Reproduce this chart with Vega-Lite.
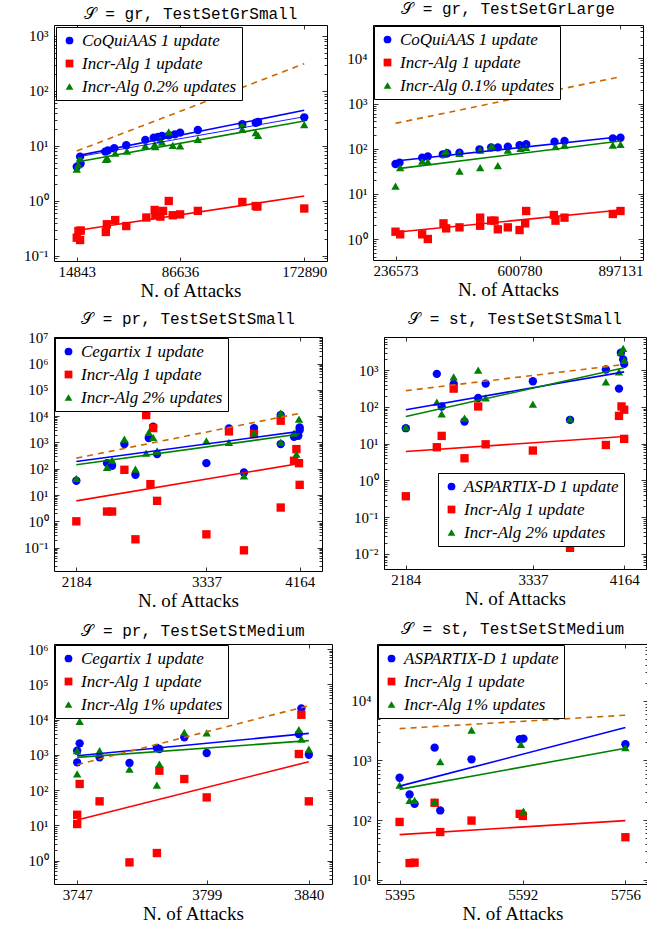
{
"$schema": "https://vega.github.io/schema/vega-lite/v6.json",
"padding": {"left": 5, "top": 0, "right": 0, "bottom": 0},
"spacing": 9,
"resolve": {"scale": {"x": "independent", "y": "independent", "fill": "independent", "shape": "independent"}},
"config": {
  "view": {"stroke": "black", "strokeWidth": 1},
  "axis": {"domain": false, "grid": false, "tickColor": "black", "tickWidth": 0.8, "labelColor": "black", "labelFont": "Liberation Serif, serif", "labelFontSize": 15, "titleFont": "Liberation Serif, serif", "titleFontSize": 19, "titleFontWeight": "normal", "titleColor": "black", "labelOverlap": false, "labelFlush": false},
  "legend": {"strokeColor": "black", "fillColor": "white", "padding": 5, "labelFont": "Liberation Serif, serif", "labelFontStyle": "italic", "labelFontSize": 17, "labelColor": "black", "symbolSize": 60, "rowPadding": 5, "labelOffset": 4, "labelLimit": 400, "symbolStrokeWidth": 0},
  "title": {"font": "Liberation Mono, monospace", "fontSize": 16, "fontWeight": "normal", "color": "black", "offset": 3}
},
"datasets": {
  "p1p": [
    {"x":14843,"y":4.2,"s":"b"},{"x":17167,"y":6.4,"s":"b"},{"x":17500,"y":4.8,"s":"b"},{"x":34597,"y":7.9,"s":"b"},{"x":36456,"y":8.3,"s":"b"},{"x":40872,"y":9.1,"s":"b"},{"x":49238,"y":10.3,"s":"b"},{"x":62485,"y":12.9,"s":"b"},{"x":68295,"y":14.2,"s":"b"},{"x":71316,"y":14.6,"s":"b"},{"x":74105,"y":15.2,"s":"b"},{"x":78758,"y":15.6,"s":"b"},{"x":82935,"y":16.3,"s":"b"},{"x":86636,"y":17.5,"s":"b"},{"x":98972,"y":19.5,"s":"b"},{"x":129881,"y":25,"s":"b"},{"x":139177,"y":26.5,"s":"b"},{"x":140804,"y":27.3,"s":"b"},{"x":172890,"y":33.2,"s":"b"},
    {"x":14843,"y":0.215,"s":"r"},{"x":16005,"y":0.285,"s":"r"},{"x":17167,"y":0.195,"s":"r"},{"x":17632,"y":0.29,"s":"r"},{"x":35062,"y":0.273,"s":"r"},{"x":35760,"y":0.377,"s":"r"},{"x":41568,"y":0.45,"s":"r"},{"x":49238,"y":0.35,"s":"r"},{"x":63187,"y":0.5,"s":"r"},{"x":68997,"y":0.686,"s":"r"},{"x":69462,"y":0.55,"s":"r"},{"x":72948,"y":0.52,"s":"r"},{"x":74808,"y":0.66,"s":"r"},{"x":78758,"y":1.0,"s":"r"},{"x":81547,"y":0.55,"s":"r"},{"x":86636,"y":0.57,"s":"r"},{"x":98972,"y":0.66,"s":"r"},{"x":129881,"y":0.96,"s":"r"},{"x":139177,"y":0.81,"s":"r"},{"x":140339,"y":0.79,"s":"r"},{"x":172890,"y":0.73,"s":"r"},
    {"x":14843,"y":3.8,"s":"g"},{"x":16005,"y":4.6,"s":"g"},{"x":17167,"y":6.1,"s":"g"},{"x":35062,"y":5.7,"s":"g"},{"x":36224,"y":5.9,"s":"g"},{"x":41568,"y":7.4,"s":"g"},{"x":49703,"y":8.1,"s":"g"},{"x":62485,"y":10,"s":"g"},{"x":68997,"y":10.7,"s":"g"},{"x":69462,"y":9.7,"s":"g"},{"x":72948,"y":12.9,"s":"g"},{"x":74105,"y":11.8,"s":"g"},{"x":78758,"y":18,"s":"g"},{"x":81547,"y":10.3,"s":"g"},{"x":86636,"y":10,"s":"g"},{"x":98972,"y":13.2,"s":"g"},{"x":129881,"y":24.8,"s":"g"},{"x":129881,"y":20,"s":"g"},{"x":139177,"y":17.5,"s":"g"},{"x":140804,"y":15.6,"s":"g"},{"x":172890,"y":24.4,"s":"g"}
  ],
  "p1l": [{"x":14843,"y":0.29,"k":"r"},{"x":172890,"y":1.23,"k":"r"},{"x":14843,"y":6.6,"k":"b"},{"x":172890,"y":44.5,"k":"b"},{"x":14843,"y":5.1,"k":"g"},{"x":172890,"y":28.5,"k":"g"}],
  "p1d": [{"x":14843,"y":8.1},{"x":172890,"y":314}],
  "p1t": [{"x":14843,"y":6.3},{"x":172890,"y":34}],
  "p2p": [
    {"x":236573,"y":45.8,"s":"b"},{"x":248316,"y":49,"s":"b"},{"x":314861,"y":63,"s":"b"},{"x":331497,"y":67.6,"s":"b"},{"x":375534,"y":75,"s":"b"},{"x":388256,"y":79,"s":"b"},{"x":424464,"y":81.5,"s":"b"},{"x":483180,"y":96.7,"s":"b"},{"x":517432,"y":107,"s":"b"},{"x":537004,"y":107,"s":"b"},{"x":566362,"y":111,"s":"b"},{"x":600780,"y":120,"s":"b"},{"x":620184,"y":125,"s":"b"},{"x":703365,"y":143,"s":"b"},{"x":732723,"y":148,"s":"b"},{"x":874620,"y":169,"s":"b"},{"x":897131,"y":175,"s":"b"},
    {"x":236573,"y":1.45,"s":"r"},{"x":250273,"y":1.27,"s":"r"},{"x":314861,"y":1.27,"s":"r"},{"x":331497,"y":1.0,"s":"r"},{"x":377491,"y":2.22,"s":"r"},{"x":385320,"y":1.72,"s":"r"},{"x":424464,"y":1.81,"s":"r"},{"x":485137,"y":2.97,"s":"r"},{"x":485137,"y":1.97,"s":"r"},{"x":517432,"y":2.55,"s":"r"},{"x":527218,"y":2.55,"s":"r"},{"x":537004,"y":1.64,"s":"r"},{"x":566362,"y":1.81,"s":"r"},{"x":600780,"y":1.58,"s":"r"},{"x":617248,"y":2.22,"s":"r"},{"x":620184,"y":4.17,"s":"r"},{"x":701408,"y":3.4,"s":"r"},{"x":706301,"y":2.55,"s":"r"},{"x":732723,"y":2.97,"s":"r"},{"x":874620,"y":3.58,"s":"r"},{"x":897131,"y":4.17,"s":"r"},
    {"x":236573,"y":14.9,"s":"g"},{"x":250273,"y":38,"s":"g"},{"x":314861,"y":53,"s":"g"},{"x":331497,"y":51.5,"s":"g"},{"x":377491,"y":75,"s":"g"},{"x":385320,"y":86,"s":"g"},{"x":424464,"y":79,"s":"g"},{"x":424464,"y":32,"s":"g"},{"x":485137,"y":93,"s":"g"},{"x":485137,"y":38,"s":"g"},{"x":517432,"y":111,"s":"g"},{"x":522325,"y":107,"s":"g"},{"x":537004,"y":42,"s":"g"},{"x":566362,"y":93,"s":"g"},{"x":603716,"y":102,"s":"g"},{"x":620184,"y":107,"s":"g"},{"x":706301,"y":111,"s":"g"},{"x":732723,"y":120,"s":"g"},{"x":874620,"y":120,"s":"g"},{"x":897131,"y":125,"s":"g"}
  ],
  "p2l": [{"x":236573,"y":1.41,"k":"r"},{"x":897131,"y":4.39,"k":"r"},{"x":236573,"y":53.3,"k":"b"},{"x":897131,"y":184,"k":"b"},{"x":250273,"y":36.7,"k":"g"},{"x":897131,"y":148,"k":"g"}],
  "p2d": [{"x":236573,"y":364},{"x":897131,"y":3926}],
  "p3p": [
    {"x":2184,"y":34.7,"s":"b"},{"x":2456,"y":163,"s":"b"},{"x":2501,"y":129,"s":"b"},{"x":2610,"y":865,"s":"b"},{"x":2708,"y":58.6,"s":"b"},{"x":2803,"y":12000,"s":"b"},{"x":2826,"y":1462,"s":"b"},{"x":2865,"y":3953,"s":"b"},{"x":2900,"y":360,"s":"b"},{"x":3337,"y":163,"s":"b"},{"x":3537,"y":3412,"s":"b"},{"x":3670,"y":72,"s":"b"},{"x":3759,"y":3516,"s":"b"},{"x":3996,"y":865,"s":"b"},{"x":3996,"y":11000,"s":"b"},{"x":4114,"y":1644,"s":"b"},{"x":4152,"y":1780,"s":"b"},{"x":4164,"y":3720,"s":"b"},{"x":4164,"y":2950,"s":"b"},
    {"x":2184,"y":1.0,"s":"r"},{"x":2456,"y":2.35,"s":"r"},{"x":2501,"y":2.35,"s":"r"},{"x":2610,"y":91,"s":"r"},{"x":2708,"y":0.207,"s":"r"},{"x":2803,"y":11000,"s":"r"},{"x":2841,"y":25.9,"s":"r"},{"x":2865,"y":3516,"s":"r"},{"x":2900,"y":6.0,"s":"r"},{"x":3337,"y":0.32,"s":"r"},{"x":3537,"y":2625,"s":"r"},{"x":3670,"y":0.079,"s":"r"},{"x":3759,"y":2075,"s":"r"},{"x":3996,"y":6685,"s":"r"},{"x":3996,"y":3.34,"s":"r"},{"x":4114,"y":200,"s":"r"},{"x":4135,"y":557,"s":"r"},{"x":4158,"y":162,"s":"r"},{"x":4164,"y":24.4,"s":"r"},
    {"x":2184,"y":42.6,"s":"g"},{"x":2456,"y":112,"s":"g"},{"x":2501,"y":212,"s":"g"},{"x":2610,"y":1340,"s":"g"},{"x":2708,"y":96,"s":"g"},{"x":2803,"y":392,"s":"g"},{"x":2826,"y":2404,"s":"g"},{"x":2865,"y":1549,"s":"g"},{"x":2900,"y":482,"s":"g"},{"x":3337,"y":1156,"s":"g"},{"x":3537,"y":1000,"s":"g"},{"x":3670,"y":53.7,"s":"g"},{"x":3759,"y":2268,"s":"g"},{"x":3996,"y":13100,"s":"g"},{"x":3996,"y":1020,"s":"g"},{"x":4114,"y":2268,"s":"g"},{"x":4135,"y":360,"s":"g"},{"x":4158,"y":7740,"s":"g"}
  ],
  "p3l": [{"x":2184,"y":6.0,"k":"r"},{"x":4164,"y":158,"k":"r"},{"x":2184,"y":189,"k":"b"},{"x":4164,"y":2625,"k":"b"},{"x":2184,"y":141,"k":"g"},{"x":4164,"y":2075,"k":"g"}],
  "p3d": [{"x":2184,"y":253},{"x":4164,"y":12740}],
  "p4p": [
    {"x":2184,"y":26.4,"s":"b"},{"x":2465,"y":794,"s":"b"},{"x":2509,"y":103,"s":"b"},{"x":2618,"y":423,"s":"b"},{"x":2716,"y":40,"s":"b"},{"x":2840,"y":175,"s":"b"},{"x":2908,"y":431,"s":"b"},{"x":3336,"y":500,"s":"b"},{"x":3673,"y":44.6,"s":"b"},{"x":3998,"y":1043,"s":"b"},{"x":4117,"y":315,"s":"b"},{"x":4134,"y":2980,"s":"b"},{"x":4155,"y":1958,"s":"b"},{"x":4164,"y":1490,"s":"b"},
    {"x":2184,"y":0.37,"s":"r"},{"x":2465,"y":8.0,"s":"r"},{"x":2509,"y":16.3,"s":"r"},{"x":2618,"y":315,"s":"r"},{"x":2716,"y":4.0,"s":"r"},{"x":2840,"y":103,"s":"r"},{"x":2908,"y":9.6,"s":"r"},{"x":3336,"y":6.5,"s":"r"},{"x":3673,"y":0.0146,"s":"r"},{"x":3998,"y":9.2,"s":"r"},{"x":4117,"y":57,"s":"r"},{"x":4140,"y":103,"s":"r"},{"x":4164,"y":84,"s":"r"},{"x":4164,"y":13.5,"s":"r"},
    {"x":2184,"y":28,"s":"g"},{"x":2465,"y":136,"s":"g"},{"x":2509,"y":65,"s":"g"},{"x":2618,"y":657,"s":"g"},{"x":2716,"y":49.6,"s":"g"},{"x":2840,"y":1000,"s":"g"},{"x":2908,"y":175,"s":"g"},{"x":3336,"y":120,"s":"g"},{"x":3673,"y":47.5,"s":"g"},{"x":3998,"y":480,"s":"g"},{"x":4117,"y":900,"s":"g"},{"x":4134,"y":3110,"s":"g"},{"x":4155,"y":3920,"s":"g"},{"x":4164,"y":1840,"s":"g"}
  ],
  "p4l": [{"x":2184,"y":6.1,"k":"r"},{"x":4164,"y":15.6,"k":"r"},{"x":2184,"y":84,"k":"b"},{"x":4164,"y":900,"k":"b"},{"x":2184,"y":55,"k":"g"},{"x":4164,"y":1158,"k":"g"}],
  "p4d": [{"x":2184,"y":277},{"x":4164,"y":1430}],
  "p5p": [
    {"x":3747,"y":1310,"s":"b"},{"x":3747,"y":611,"s":"b"},{"x":3748,"y":2113,"s":"b"},{"x":3756,"y":847,"s":"b"},{"x":3768,"y":585,"s":"b"},{"x":3779,"y":1560,"s":"b"},{"x":3780,"y":1460,"s":"b"},{"x":3790,"y":3126,"s":"b"},{"x":3799,"y":1125,"s":"b"},{"x":3836,"y":3890,"s":"b"},{"x":3837,"y":20800,"s":"b"},{"x":3840,"y":1008,"s":"b"},
    {"x":3747,"y":20,"s":"r"},{"x":3747,"y":10.9,"s":"r"},{"x":3748,"y":149,"s":"r"},{"x":3756,"y":48,"s":"r"},{"x":3768,"y":0.89,"s":"r"},{"x":3779,"y":1.64,"s":"r"},{"x":3780,"y":355,"s":"r"},{"x":3790,"y":206,"s":"r"},{"x":3799,"y":62,"s":"r"},{"x":3836,"y":1054,"s":"r"},{"x":3837,"y":13700,"s":"r"},{"x":3840,"y":48,"s":"r"},
    {"x":3747,"y":1310,"s":"g"},{"x":3747,"y":286,"s":"g"},{"x":3748,"y":8900,"s":"g"},{"x":3756,"y":1310,"s":"g"},{"x":3768,"y":396,"s":"g"},{"x":3779,"y":139,"s":"g"},{"x":3780,"y":548,"s":"g"},{"x":3790,"y":4340,"s":"g"},{"x":3799,"y":4210,"s":"g"},{"x":3836,"y":5160,"s":"g"},{"x":3837,"y":2800,"s":"g"},{"x":3840,"y":1460,"s":"g"}
  ],
  "p5l": [{"x":3747,"y":14.2,"k":"r"},{"x":3840,"y":638,"k":"r"},{"x":3747,"y":944,"k":"b"},{"x":3840,"y":4060,"k":"b"},{"x":3747,"y":847,"k":"g"},{"x":3840,"y":2520,"k":"g"}],
  "p5d": [{"x":3747,"y":525},{"x":3840,"y":24700}],
  "p6p": [
    {"x":5395,"y":513,"s":"b"},{"x":5411,"y":269,"s":"b"},{"x":5419,"y":187,"s":"b"},{"x":5451,"y":1640,"s":"b"},{"x":5460,"y":145,"s":"b"},{"x":5510,"y":1044,"s":"b"},{"x":5587,"y":2265,"s":"b"},{"x":5593,"y":2320,"s":"b"},{"x":5756,"y":1866,"s":"b"},
    {"x":5395,"y":93,"s":"r"},{"x":5411,"y":19,"s":"r"},{"x":5419,"y":19.3,"s":"r"},{"x":5451,"y":195,"s":"r"},{"x":5460,"y":63,"s":"r"},{"x":5510,"y":98,"s":"r"},{"x":5587,"y":127,"s":"r"},{"x":5592,"y":117,"s":"r"},{"x":5756,"y":51.5,"s":"r"},
    {"x":5395,"y":386,"s":"g"},{"x":5411,"y":213,"s":"g"},{"x":5419,"y":213,"s":"g"},{"x":5451,"y":202,"s":"g"},{"x":5460,"y":953,"s":"g"},{"x":5510,"y":3210,"s":"g"},{"x":5589,"y":1866,"s":"g"},{"x":5593,"y":141,"s":"g"},{"x":5756,"y":1640,"s":"g"}
  ],
  "p6l": [{"x":5395,"y":57,"k":"r"},{"x":5756,"y":98,"k":"r"},{"x":5395,"y":371,"k":"b"},{"x":5756,"y":3560,"k":"b"},{"x":5395,"y":327,"k":"g"},{"x":5756,"y":1600,"k":"g"}],
  "p6d": [{"x":5395,"y":3420},{"x":5756,"y":5740}]
},
"vconcat": [
 {"hconcat": [
  {"title": "𝒮 = gr, TestSetGrSmall", "width": 273, "height": 236,
   "resolve": {"axis": {"x": "independent", "y": "independent"}},
   "layer": [
    {"data": {"name": "p1p"}, "mark": {"type": "point", "filled": true, "size": 70, "opacity": 1},
     "encoding": {
      "x": {"field": "x", "type": "quantitative", "scale": {"domain": [-962, 188695], "nice": false, "zero": false}, "axis": {"values": [14843, 86636, 172890], "format": "d", "title": "N. of Attacks", "titleFontWeight": "normal", "tickSize": -4, "labelPadding": 7, "titlePadding": 2}},
      "y": {"field": "y", "type": "quantitative", "scale": {"type": "log", "domain": [0.081, 1585], "nice": false}, "axis": {"values": [0.09,0.1,0.2,0.3,0.4,0.5,0.6,0.7,0.8,0.9,1,2,3,4,5,6,7,8,9,10,20,30,40,50,60,70,80,90,100,200,300,400,500,600,700,800,900,1000], "labelExpr": "abs(log(datum.value)/LN10 - round(log(datum.value)/LN10)) > 0.001 ? '' : ['10⁻²','10⁻¹','10⁰','10¹','10²','10³','10⁴','10⁵','10⁶','10⁷'][round(log(datum.value)/LN10)+2]", "tickSize": {"condition": {"test": "abs(log(datum.value)/LN10 - round(log(datum.value)/LN10)) < 0.001", "value": -5}, "value": -3}, "labelPadding": 11, "title": null, "minExtent": 42, "maxExtent": 42}},
      "fill": {"field": "s", "type": "nominal", "scale": {"domain": ["b", "r", "g"], "range": ["#0000ff", "#ff0000", "#008000"]}, "legend": {"title": null, "orient": "none", "legendX": 2, "legendY": 2, "labelExpr": "datum.label == 'b' ? 'CoQuiAAS 1 update' : datum.label == 'r' ? 'Incr-Alg 1 update' : 'Incr-Alg 0.2% updates'"}},
      "shape": {"field": "s", "type": "nominal", "scale": {"domain": ["b", "r", "g"], "range": ["circle", "square", "triangle-up"]}, "legend": {"title": null, "orient": "none", "legendX": 2, "legendY": 2, "labelExpr": "datum.label == 'b' ? 'CoQuiAAS 1 update' : datum.label == 'r' ? 'Incr-Alg 1 update' : 'Incr-Alg 0.2% updates'"}}
     }},
    {"data": {"name": "p1l"}, "mark": {"type": "line", "strokeWidth": 1.6},
     "encoding": {
      "x": {"field": "x", "type": "quantitative", "scale": {"domain": [-962, 188695], "nice": false, "zero": false}, "axis": {"orient": "top", "values": [14843, 86636, 172890], "labels": false, "tickSize": -4, "title": null, "minExtent": 0, "maxExtent": 0}},
      "y": {"field": "y", "type": "quantitative", "scale": {"type": "log", "domain": [0.081, 1585], "nice": false}, "axis": {"orient": "right", "values": [0.09,0.1,0.2,0.3,0.4,0.5,0.6,0.7,0.8,0.9,1,2,3,4,5,6,7,8,9,10,20,30,40,50,60,70,80,90,100,200,300,400,500,600,700,800,900,1000], "labels": false, "tickSize": {"condition": {"test": "abs(log(datum.value)/LN10 - round(log(datum.value)/LN10)) < 0.001", "value": -5}, "value": -3}, "title": null, "minExtent": 0, "maxExtent": 0}},
      "stroke": {"field": "k", "type": "nominal", "scale": {"domain": ["r", "b", "g"], "range": ["#ff0000", "#0000ff", "#008000"]}, "legend": null}
     }},
    {"data": {"name": "p1t"}, "mark": {"type": "line", "stroke": "#0000ff", "strokeWidth": 0.9},
     "encoding": {"x": {"field": "x", "type": "quantitative", "axis": null}, "y": {"field": "y", "type": "quantitative", "axis": null}}},
    {"data": {"name": "p1d"}, "mark": {"type": "line", "stroke": "#cc6600", "strokeDash": [6, 5], "strokeWidth": 1.6},
     "encoding": {"x": {"field": "x", "type": "quantitative", "axis": null}, "y": {"field": "y", "type": "quantitative", "axis": null}}}
   ]},
  {"title": "𝒮 = gr, TestSetGrLarge", "width": 270, "height": 235,
   "resolve": {"axis": {"x": "independent", "y": "independent"}},
   "layer": [
    {"data": {"name": "p2p"}, "mark": {"type": "point", "filled": true, "size": 70, "opacity": 1},
     "encoding": {
      "x": {"field": "x", "type": "quantitative", "scale": {"domain": [170517, 963187], "nice": false, "zero": false}, "axis": {"values": [236573, 600780, 897131], "format": "d", "title": "N. of Attacks", "titleFontWeight": "normal", "tickSize": -4, "labelPadding": 7, "titlePadding": 2}},
      "y": {"field": "y", "type": "quantitative", "scale": {"type": "log", "domain": [0.343, 54700], "nice": false}, "axis": {"values": [0.4,0.5,0.6,0.7,0.8,0.9,1,2,3,4,5,6,7,8,9,10,20,30,40,50,60,70,80,90,100,200,300,400,500,600,700,800,900,1000,2000,3000,4000,5000,6000,7000,8000,9000,10000,20000,30000,40000,50000], "labelExpr": "abs(log(datum.value)/LN10 - round(log(datum.value)/LN10)) > 0.001 ? '' : ['10⁻²','10⁻¹','10⁰','10¹','10²','10³','10⁴','10⁵','10⁶','10⁷'][round(log(datum.value)/LN10)+2]", "tickSize": {"condition": {"test": "abs(log(datum.value)/LN10 - round(log(datum.value)/LN10)) < 0.001", "value": -5}, "value": -3}, "labelPadding": 11, "title": null, "minExtent": 29, "maxExtent": 29}},
      "fill": {"field": "s", "type": "nominal", "scale": {"domain": ["b", "r", "g"], "range": ["#0000ff", "#ff0000", "#008000"]}, "legend": {"title": null, "orient": "none", "legendX": 1, "legendY": 1, "labelExpr": "datum.label == 'b' ? 'CoQuiAAS 1 update' : datum.label == 'r' ? 'Incr-Alg 1 update' : 'Incr-Alg 0.1% updates'"}},
      "shape": {"field": "s", "type": "nominal", "scale": {"domain": ["b", "r", "g"], "range": ["circle", "square", "triangle-up"]}, "legend": {"title": null, "orient": "none", "legendX": 1, "legendY": 1, "labelExpr": "datum.label == 'b' ? 'CoQuiAAS 1 update' : datum.label == 'r' ? 'Incr-Alg 1 update' : 'Incr-Alg 0.1% updates'"}}
     }},
    {"data": {"name": "p2l"}, "mark": {"type": "line", "strokeWidth": 1.6},
     "encoding": {
      "x": {"field": "x", "type": "quantitative", "scale": {"domain": [170517, 963187], "nice": false, "zero": false}, "axis": {"orient": "top", "values": [236573, 600780, 897131], "labels": false, "tickSize": -4, "title": null, "minExtent": 0, "maxExtent": 0}},
      "y": {"field": "y", "type": "quantitative", "scale": {"type": "log", "domain": [0.343, 54700], "nice": false}, "axis": {"orient": "right", "values": [0.4,0.5,0.6,0.7,0.8,0.9,1,2,3,4,5,6,7,8,9,10,20,30,40,50,60,70,80,90,100,200,300,400,500,600,700,800,900,1000,2000,3000,4000,5000,6000,7000,8000,9000,10000,20000,30000,40000,50000], "labels": false, "tickSize": {"condition": {"test": "abs(log(datum.value)/LN10 - round(log(datum.value)/LN10)) < 0.001", "value": -5}, "value": -3}, "title": null, "minExtent": 0, "maxExtent": 0}},
      "stroke": {"field": "k", "type": "nominal", "scale": {"domain": ["r", "b", "g"], "range": ["#ff0000", "#0000ff", "#008000"]}, "legend": null}
     }},
    {"data": {"name": "p2d"}, "mark": {"type": "line", "stroke": "#cc6600", "strokeDash": [6, 5], "strokeWidth": 1.6},
     "encoding": {"x": {"field": "x", "type": "quantitative", "axis": null}, "y": {"field": "y", "type": "quantitative", "axis": null}}}
   ]}
 ], "spacing": 15, "resolve": {"scale": {"x": "independent", "y": "independent", "fill": "independent", "shape": "independent"}}},
 {"hconcat": [
  {"title": "𝒮 = pr, TestSetStSmall", "width": 268, "height": 234,
   "resolve": {"axis": {"x": "independent", "y": "independent"}},
   "layer": [
    {"data": {"name": "p3p"}, "mark": {"type": "point", "filled": true, "size": 70, "opacity": 1},
     "encoding": {
      "x": {"field": "x", "type": "quantitative", "scale": {"domain": [1986, 4362], "nice": false, "zero": false}, "axis": {"values": [2184, 3337, 4164], "format": "d", "title": "N. of Attacks", "titleFontWeight": "normal", "tickSize": -4, "labelPadding": 7, "titlePadding": 2}},
      "y": {"field": "y", "type": "quantitative", "scale": {"type": "log", "domain": [0.0129, 10200000], "nice": false}, "axis": {"values": [0.02,0.03,0.04,0.05,0.06,0.07,0.08,0.09,0.1,0.2,0.3,0.4,0.5,0.6,0.7,0.8,0.9,1,2,3,4,5,6,7,8,9,10,20,30,40,50,60,70,80,90,100,200,300,400,500,600,700,800,900,1000,2000,3000,4000,5000,6000,7000,8000,9000,10000,20000,30000,40000,50000,60000,70000,80000,90000,100000,200000,300000,400000,500000,600000,700000,800000,900000,1000000,2000000,3000000,4000000,5000000,6000000,7000000,8000000,9000000,10000000], "labelExpr": "abs(log(datum.value)/LN10 - round(log(datum.value)/LN10)) > 0.001 ? '' : ['10⁻²','10⁻¹','10⁰','10¹','10²','10³','10⁴','10⁵','10⁶','10⁷'][round(log(datum.value)/LN10)+2]", "tickSize": {"condition": {"test": "abs(log(datum.value)/LN10 - round(log(datum.value)/LN10)) < 0.001", "value": -5}, "value": -3}, "labelPadding": 11, "title": null, "minExtent": 48, "maxExtent": 48}},
      "fill": {"field": "s", "type": "nominal", "scale": {"domain": ["b", "r", "g"], "range": ["#0000ff", "#ff0000", "#008000"]}, "legend": {"title": null, "orient": "none", "legendX": 1, "legendY": 1, "labelExpr": "datum.label == 'b' ? 'Cegartix 1 update' : datum.label == 'r' ? 'Incr-Alg 1 update' : 'Incr-Alg 2% updates'"}},
      "shape": {"field": "s", "type": "nominal", "scale": {"domain": ["b", "r", "g"], "range": ["circle", "square", "triangle-up"]}, "legend": {"title": null, "orient": "none", "legendX": 1, "legendY": 1, "labelExpr": "datum.label == 'b' ? 'Cegartix 1 update' : datum.label == 'r' ? 'Incr-Alg 1 update' : 'Incr-Alg 2% updates'"}}
     }},
    {"data": {"name": "p3l"}, "mark": {"type": "line", "strokeWidth": 1.6},
     "encoding": {
      "x": {"field": "x", "type": "quantitative", "scale": {"domain": [1986, 4362], "nice": false, "zero": false}, "axis": {"orient": "top", "values": [2184, 3337, 4164], "labels": false, "tickSize": -4, "title": null, "minExtent": 0, "maxExtent": 0}},
      "y": {"field": "y", "type": "quantitative", "scale": {"type": "log", "domain": [0.0129, 10200000], "nice": false}, "axis": {"orient": "right", "values": [0.02,0.03,0.04,0.05,0.06,0.07,0.08,0.09,0.1,0.2,0.3,0.4,0.5,0.6,0.7,0.8,0.9,1,2,3,4,5,6,7,8,9,10,20,30,40,50,60,70,80,90,100,200,300,400,500,600,700,800,900,1000,2000,3000,4000,5000,6000,7000,8000,9000,10000,20000,30000,40000,50000,60000,70000,80000,90000,100000,200000,300000,400000,500000,600000,700000,800000,900000,1000000,2000000,3000000,4000000,5000000,6000000,7000000,8000000,9000000,10000000], "labels": false, "tickSize": {"condition": {"test": "abs(log(datum.value)/LN10 - round(log(datum.value)/LN10)) < 0.001", "value": -5}, "value": -3}, "title": null, "minExtent": 0, "maxExtent": 0}},
      "stroke": {"field": "k", "type": "nominal", "scale": {"domain": ["r", "b", "g"], "range": ["#ff0000", "#0000ff", "#008000"]}, "legend": null}
     }},
    {"data": {"name": "p3d"}, "mark": {"type": "line", "stroke": "#cc6600", "strokeDash": [6, 5], "strokeWidth": 1.6},
     "encoding": {"x": {"field": "x", "type": "quantitative", "axis": null}, "y": {"field": "y", "type": "quantitative", "axis": null}}}
   ]},
  {"title": "𝒮 = st, TestSetStSmall", "width": 262, "height": 232,
   "resolve": {"axis": {"x": "independent", "y": "independent"}},
   "layer": [
    {"data": {"name": "p4p"}, "mark": {"type": "point", "filled": true, "size": 70, "opacity": 1},
     "encoding": {
      "x": {"field": "x", "type": "quantitative", "scale": {"domain": [1986, 4362], "nice": false, "zero": false}, "axis": {"values": [2184, 3337, 4164], "format": "d", "title": "N. of Attacks", "titleFontWeight": "normal", "tickSize": -4, "labelPadding": 7, "titlePadding": 2}},
      "y": {"field": "y", "type": "quantitative", "scale": {"type": "log", "domain": [0.00388, 8000], "nice": false}, "axis": {"values": [0.004,0.005,0.006,0.007,0.008,0.009,0.01,0.02,0.03,0.04,0.05,0.06,0.07,0.08,0.09,0.1,0.2,0.3,0.4,0.5,0.6,0.7,0.8,0.9,1,2,3,4,5,6,7,8,9,10,20,30,40,50,60,70,80,90,100,200,300,400,500,600,700,800,900,1000,2000,3000,4000,5000,6000,7000,8000], "labelExpr": "abs(log(datum.value)/LN10 - round(log(datum.value)/LN10)) > 0.001 ? '' : ['10⁻²','10⁻¹','10⁰','10¹','10²','10³','10⁴','10⁵','10⁶','10⁷'][round(log(datum.value)/LN10)+2]", "tickSize": {"condition": {"test": "abs(log(datum.value)/LN10 - round(log(datum.value)/LN10)) < 0.001", "value": -5}, "value": -3}, "labelPadding": 11, "title": null, "minExtent": 35, "maxExtent": 35}},
      "fill": {"field": "s", "type": "nominal", "scale": {"domain": ["b", "r", "g"], "range": ["#0000ff", "#ff0000", "#008000"]}, "legend": {"title": null, "orient": "none", "legendX": 54, "legendY": 136, "labelExpr": "datum.label == 'b' ? 'ASPARTIX-D 1 update' : datum.label == 'r' ? 'Incr-Alg 1 update' : 'Incr-Alg 2% updates'"}},
      "shape": {"field": "s", "type": "nominal", "scale": {"domain": ["b", "r", "g"], "range": ["circle", "square", "triangle-up"]}, "legend": {"title": null, "orient": "none", "legendX": 54, "legendY": 136, "labelExpr": "datum.label == 'b' ? 'ASPARTIX-D 1 update' : datum.label == 'r' ? 'Incr-Alg 1 update' : 'Incr-Alg 2% updates'"}}
     }},
    {"data": {"name": "p4l"}, "mark": {"type": "line", "strokeWidth": 1.6},
     "encoding": {
      "x": {"field": "x", "type": "quantitative", "scale": {"domain": [1986, 4362], "nice": false, "zero": false}, "axis": {"orient": "top", "values": [2184, 3337, 4164], "labels": false, "tickSize": -4, "title": null, "minExtent": 0, "maxExtent": 0}},
      "y": {"field": "y", "type": "quantitative", "scale": {"type": "log", "domain": [0.00388, 8000], "nice": false}, "axis": {"orient": "right", "values": [0.004,0.005,0.006,0.007,0.008,0.009,0.01,0.02,0.03,0.04,0.05,0.06,0.07,0.08,0.09,0.1,0.2,0.3,0.4,0.5,0.6,0.7,0.8,0.9,1,2,3,4,5,6,7,8,9,10,20,30,40,50,60,70,80,90,100,200,300,400,500,600,700,800,900,1000,2000,3000,4000,5000,6000,7000,8000], "labels": false, "tickSize": {"condition": {"test": "abs(log(datum.value)/LN10 - round(log(datum.value)/LN10)) < 0.001", "value": -5}, "value": -3}, "title": null, "minExtent": 0, "maxExtent": 0}},
      "stroke": {"field": "k", "type": "nominal", "scale": {"domain": ["r", "b", "g"], "range": ["#ff0000", "#0000ff", "#008000"]}, "legend": null}
     }},
    {"data": {"name": "p4d"}, "mark": {"type": "line", "stroke": "#cc6600", "strokeDash": [6, 5], "strokeWidth": 1.6},
     "encoding": {"x": {"field": "x", "type": "quantitative", "axis": null}, "y": {"field": "y", "type": "quantitative", "axis": null}}}
   ]}
 ], "spacing": 25, "resolve": {"scale": {"x": "independent", "y": "independent", "fill": "independent", "shape": "independent"}}},
 {"hconcat": [
  {"title": "𝒮 = pr, TestSetStMedium", "width": 278, "height": 240,
   "resolve": {"axis": {"x": "independent", "y": "independent"}},
   "layer": [
    {"data": {"name": "p5p"}, "mark": {"type": "point", "filled": true, "size": 70, "opacity": 1},
     "encoding": {
      "x": {"field": "x", "type": "quantitative", "scale": {"domain": [3737.7, 3849.3], "nice": false, "zero": false}, "axis": {"values": [3747, 3799, 3840], "format": "d", "title": "N. of Attacks", "titleFontWeight": "normal", "tickSize": -4, "labelPadding": 7, "titlePadding": 2}},
      "y": {"field": "y", "type": "quantitative", "scale": {"type": "log", "domain": [0.217, 1390000], "nice": false}, "axis": {"values": [0.3,0.4,0.5,0.6,0.7,0.8,0.9,1,2,3,4,5,6,7,8,9,10,20,30,40,50,60,70,80,90,100,200,300,400,500,600,700,800,900,1000,2000,3000,4000,5000,6000,7000,8000,9000,10000,20000,30000,40000,50000,60000,70000,80000,90000,100000,200000,300000,400000,500000,600000,700000,800000,900000,1000000], "labelExpr": "abs(log(datum.value)/LN10 - round(log(datum.value)/LN10)) > 0.001 ? '' : ['10⁻²','10⁻¹','10⁰','10¹','10²','10³','10⁴','10⁵','10⁶','10⁷'][round(log(datum.value)/LN10)+2]", "tickSize": {"condition": {"test": "abs(log(datum.value)/LN10 - round(log(datum.value)/LN10)) < 0.001", "value": -5}, "value": -3}, "labelPadding": 11, "title": null, "minExtent": 38, "maxExtent": 38}},
      "fill": {"field": "s", "type": "nominal", "scale": {"domain": ["b", "r", "g"], "range": ["#0000ff", "#ff0000", "#008000"]}, "legend": {"title": null, "orient": "none", "legendX": 1, "legendY": 1, "labelExpr": "datum.label == 'b' ? 'Cegartix 1 update' : datum.label == 'r' ? 'Incr-Alg 1 update' : 'Incr-Alg 1% updates'"}},
      "shape": {"field": "s", "type": "nominal", "scale": {"domain": ["b", "r", "g"], "range": ["circle", "square", "triangle-up"]}, "legend": {"title": null, "orient": "none", "legendX": 1, "legendY": 1, "labelExpr": "datum.label == 'b' ? 'Cegartix 1 update' : datum.label == 'r' ? 'Incr-Alg 1 update' : 'Incr-Alg 1% updates'"}}
     }},
    {"data": {"name": "p5l"}, "mark": {"type": "line", "strokeWidth": 1.6},
     "encoding": {
      "x": {"field": "x", "type": "quantitative", "scale": {"domain": [3737.7, 3849.3], "nice": false, "zero": false}, "axis": {"orient": "top", "values": [3747, 3799, 3840], "labels": false, "tickSize": -4, "title": null, "minExtent": 0, "maxExtent": 0}},
      "y": {"field": "y", "type": "quantitative", "scale": {"type": "log", "domain": [0.217, 1390000], "nice": false}, "axis": {"orient": "right", "values": [0.3,0.4,0.5,0.6,0.7,0.8,0.9,1,2,3,4,5,6,7,8,9,10,20,30,40,50,60,70,80,90,100,200,300,400,500,600,700,800,900,1000,2000,3000,4000,5000,6000,7000,8000,9000,10000,20000,30000,40000,50000,60000,70000,80000,90000,100000,200000,300000,400000,500000,600000,700000,800000,900000,1000000], "labels": false, "tickSize": {"condition": {"test": "abs(log(datum.value)/LN10 - round(log(datum.value)/LN10)) < 0.001", "value": -5}, "value": -3}, "title": null, "minExtent": 0, "maxExtent": 0}},
      "stroke": {"field": "k", "type": "nominal", "scale": {"domain": ["r", "b", "g"], "range": ["#ff0000", "#0000ff", "#008000"]}, "legend": null}
     }},
    {"data": {"name": "p5d"}, "mark": {"type": "line", "stroke": "#cc6600", "strokeDash": [6, 5], "strokeWidth": 1.6},
     "encoding": {"x": {"field": "x", "type": "quantitative", "axis": null}, "y": {"field": "y", "type": "quantitative", "axis": null}}}
   ]},
  {"title": "𝒮 = st, TestSetStMedium", "width": 271, "height": 240,
   "resolve": {"axis": {"x": "independent", "y": "independent"}},
   "layer": [
    {"data": {"name": "p6p"}, "mark": {"type": "point", "filled": true, "size": 70, "opacity": 1},
     "encoding": {
      "x": {"field": "x", "type": "quantitative", "scale": {"domain": [5358.9, 5792.1], "nice": false, "zero": false}, "axis": {"values": [5395, 5592, 5756], "format": "d", "title": "N. of Attacks", "titleFontWeight": "normal", "tickSize": -4, "labelPadding": 7, "titlePadding": 2}},
      "y": {"field": "y", "type": "quantitative", "scale": {"type": "log", "domain": [8.46, 89800], "nice": false}, "axis": {"values": [9,10,20,30,40,50,60,70,80,90,100,200,300,400,500,600,700,800,900,1000,2000,3000,4000,5000,6000,7000,8000,9000,10000,20000,30000,40000,50000,60000,70000,80000], "labelExpr": "abs(log(datum.value)/LN10 - round(log(datum.value)/LN10)) > 0.001 ? '' : ['10⁻²','10⁻¹','10⁰','10¹','10²','10³','10⁴','10⁵','10⁶','10⁷'][round(log(datum.value)/LN10)+2]", "tickSize": {"condition": {"test": "abs(log(datum.value)/LN10 - round(log(datum.value)/LN10)) < 0.001", "value": -5}, "value": -3}, "labelPadding": 11, "title": null, "minExtent": 26, "maxExtent": 26}},
      "fill": {"field": "s", "type": "nominal", "scale": {"domain": ["b", "r", "g"], "range": ["#0000ff", "#ff0000", "#008000"]}, "legend": {"title": null, "orient": "none", "legendX": 1, "legendY": 1, "labelExpr": "datum.label == 'b' ? 'ASPARTIX-D 1 update' : datum.label == 'r' ? 'Incr-Alg 1 update' : 'Incr-Alg 1% updates'"}},
      "shape": {"field": "s", "type": "nominal", "scale": {"domain": ["b", "r", "g"], "range": ["circle", "square", "triangle-up"]}, "legend": {"title": null, "orient": "none", "legendX": 1, "legendY": 1, "labelExpr": "datum.label == 'b' ? 'ASPARTIX-D 1 update' : datum.label == 'r' ? 'Incr-Alg 1 update' : 'Incr-Alg 1% updates'"}}
     }},
    {"data": {"name": "p6l"}, "mark": {"type": "line", "strokeWidth": 1.6},
     "encoding": {
      "x": {"field": "x", "type": "quantitative", "scale": {"domain": [5358.9, 5792.1], "nice": false, "zero": false}, "axis": {"orient": "top", "values": [5395, 5592, 5756], "labels": false, "tickSize": -4, "title": null, "minExtent": 0, "maxExtent": 0}},
      "y": {"field": "y", "type": "quantitative", "scale": {"type": "log", "domain": [8.46, 89800], "nice": false}, "axis": {"orient": "right", "values": [9,10,20,30,40,50,60,70,80,90,100,200,300,400,500,600,700,800,900,1000,2000,3000,4000,5000,6000,7000,8000,9000,10000,20000,30000,40000,50000,60000,70000,80000], "labels": false, "tickSize": {"condition": {"test": "abs(log(datum.value)/LN10 - round(log(datum.value)/LN10)) < 0.001", "value": -5}, "value": -3}, "title": null, "minExtent": 0, "maxExtent": 0}},
      "stroke": {"field": "k", "type": "nominal", "scale": {"domain": ["r", "b", "g"], "range": ["#ff0000", "#0000ff", "#008000"]}, "legend": null}
     }},
    {"data": {"name": "p6d"}, "mark": {"type": "line", "stroke": "#cc6600", "strokeDash": [6, 5], "strokeWidth": 1.6},
     "encoding": {"x": {"field": "x", "type": "quantitative", "axis": null}, "y": {"field": "y", "type": "quantitative", "axis": null}}}
   ]}
 ], "spacing": 17, "resolve": {"scale": {"x": "independent", "y": "independent", "fill": "independent", "shape": "independent"}}}
]
}
